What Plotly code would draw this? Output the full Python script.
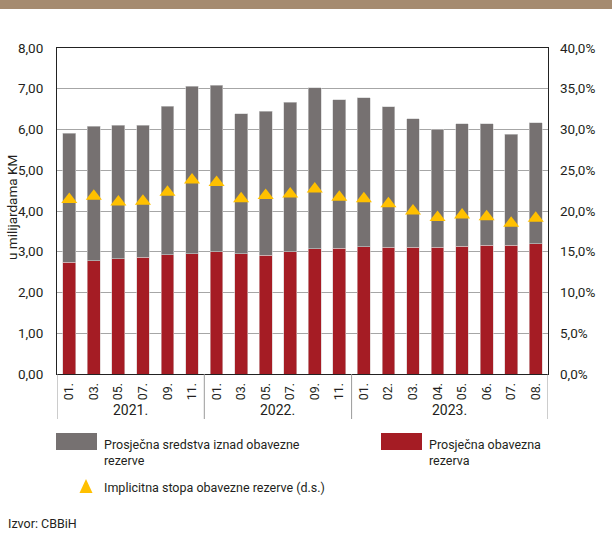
import plotly.graph_objects as go

# ---- data ----
months = ["01.", "03.", "05.", "07.", "09.", "11.",
          "01.", "03.", "05.", "07.", "09.", "11.",
          "01.", "02.", "03.", "04.", "05.", "06.", "07.", "08."]
years = ["2021.", "2022.", "2023."]
year_counts = [6, 6, 8]

mandatory_reserve = [2.74, 2.78, 2.83, 2.87, 2.93, 2.95,
                     3.00, 2.95, 2.92, 3.00, 3.07, 3.08,
                     3.12, 3.11, 3.11, 3.11, 3.13, 3.16, 3.16, 3.20]
excess_funds = [3.17, 3.30, 3.27, 3.24, 3.64, 4.11,
                4.08, 3.44, 3.53, 3.67, 3.95, 3.65,
                3.66, 3.45, 3.16, 2.90, 3.01, 2.98, 2.72, 2.97]
implicit_rate = [21.4, 21.8, 21.1, 21.2, 22.3, 23.8,
                 23.5, 21.5, 21.9, 22.1, 22.7, 21.7,
                 21.5, 20.9, 20.0, 19.2, 19.5, 19.3, 18.5, 19.1]

name_excess = "Prosječna sredstva iznad obavezne rezerve"
name_mandatory = "Prosječna obavezna rezerva"
name_rate = "Implicitna stopa obavezne rezerve (d.s.)"

GRAY = "#767171"
RED = "#A51C24"
YELLOW = "#FFC000"
TEXT = "#231F20"
FONT = "Roboto"

x = list(range(len(months)))

fig = go.Figure()
fig.add_trace(go.Bar(x=x, y=mandatory_reserve, name=name_mandatory,
                     marker=dict(color=RED, line=dict(color="#d8c8c8", width=0.6))))
fig.add_trace(go.Bar(x=x, y=excess_funds, name=name_excess,
                     marker=dict(color=GRAY, line=dict(color="#cfcfcf", width=0.6))))
fig.add_trace(go.Scatter(x=x, y=[v / 100 for v in implicit_rate], name=name_rate,
                         mode="markers", yaxis="y2",
                         marker=dict(symbol="triangle-up", size=14, color=YELLOW,
                                     line=dict(width=0))))

# plot area in pixels
L, R, T, B = 57, 548, 48, 374
W, H = 612, 533
pw, ph = R - L, B - T

def px(xp):
    return (xp - L) / pw

def py(yp):
    return (B - yp) / ph

shapes = []
annotations = []

# top brown band
shapes.append(dict(type="rect", xref="paper", yref="paper",
                   x0=px(0), x1=px(W), y0=py(9), y1=py(0),
                   fillcolor="#A58B70", line=dict(width=0), layer="above"))

# year separators
bounds = [-0.5]
for c in year_counts:
    bounds.append(bounds[-1] + c)
for b in bounds:
    shapes.append(dict(type="line", xref="x", yref="paper", x0=b, x1=b,
                       y0=0, y1=py(419), line=dict(color="#9a9a9a", width=1)))
# year labels
for i, yr in enumerate(years):
    annotations.append(dict(xref="x", yref="paper", x=(bounds[i] + bounds[i + 1]) / 2,
                            y=py(410), text=yr, showarrow=False,
                            xanchor="center", yanchor="middle",
                            font=dict(family=FONT, size=14, color=TEXT)))

# y axis title
annotations.append(dict(xref="paper", yref="paper", x=px(12), y=py(208),
                        text="u milijardama KM", textangle=-90, showarrow=False,
                        xanchor="center", yanchor="middle",
                        font=dict(family=FONT, size=13.5, color=TEXT)))

# custom legend
leg_font = dict(family=FONT, size=12.5, color=TEXT)
shapes.append(dict(type="rect", xref="paper", yref="paper",
                   x0=px(56), x1=px(97), y0=py(450), y1=py(433),
                   fillcolor=GRAY, line=dict(width=0)))
annotations.append(dict(xref="paper", yref="paper", x=px(102), y=py(452),
                        text="Prosječna sredstva iznad obavezne<br>rezerve",
                        showarrow=False, xanchor="left", yanchor="middle", align="left",
                        font=leg_font))
shapes.append(dict(type="rect", xref="paper", yref="paper",
                   x0=px(381), x1=px(422), y0=py(450), y1=py(433),
                   fillcolor=RED, line=dict(width=0)))
annotations.append(dict(xref="paper", yref="paper", x=px(427), y=py(452),
                        text="Prosječna obavezna<br>rezerva",
                        showarrow=False, xanchor="left", yanchor="middle", align="left",
                        font=leg_font))
tx0, tx1, tx2 = px(79.5), px(92.5), px(86)
ty0, ty1 = py(493), py(479)
shapes.append(dict(type="path", xref="paper", yref="paper",
                   path=f"M {tx0} {ty0} L {tx1} {ty0} L {tx2} {ty1} Z",
                   fillcolor=YELLOW, line=dict(width=0)))
annotations.append(dict(xref="paper", yref="paper", x=px(102), y=py(487),
                        text=name_rate, showarrow=False,
                        xanchor="left", yanchor="middle", font=leg_font))
annotations.append(dict(xref="paper", yref="paper", x=px(6), y=py(523),
                        text="Izvor: CBBiH", showarrow=False,
                        xanchor="left", yanchor="middle", font=leg_font))

fig.update_layout(
    width=W, height=H,
    margin=dict(l=L, r=W - R, t=T, b=H - B, pad=0, autoexpand=False),
    paper_bgcolor="white", plot_bgcolor="white",
    barmode="stack", bargap=0.48,
    showlegend=False,
    separators=", ",
    font=dict(family=FONT, size=13.5, color=TEXT),
    xaxis=dict(range=[-0.5, len(months) - 0.5], tickmode="array", tickvals=x,
               ticktext=months, tickangle=-90, showgrid=False, zeroline=False,
               showline=True, linecolor="#222", linewidth=1, mirror=True,
               ticks="", ticklabelstandoff=3, automargin=False,
               tickfont=dict(family=FONT, size=12.5, color=TEXT)),
    yaxis=dict(range=[0, 8], dtick=1, tickformat=".2f", showgrid=True,
               gridcolor="#a6a6a6", gridwidth=1, zeroline=False,
               showline=True, linecolor="#222", linewidth=1, mirror=True,
               ticks="", ticklabelstandoff=10, automargin=False,
               tickfont=dict(family=FONT, size=13.5, color=TEXT)),
    yaxis2=dict(range=[0, 0.4], dtick=0.05, tickformat=".1%", overlaying="y",
                side="right", showgrid=False, zeroline=False, showline=False,
                ticks="", ticklabelstandoff=11, automargin=False,
                tickfont=dict(family=FONT, size=13.5, color=TEXT)),
    shapes=shapes,
    annotations=annotations,
)

fig.write_html("out.html", config={"displayModeBar": False},
               post_script="document.body.style.margin='0';document.body.style.padding='0';")
